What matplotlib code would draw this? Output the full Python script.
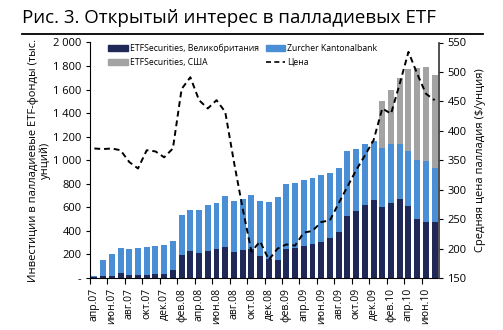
import matplotlib
matplotlib.use("Agg")
import matplotlib.pyplot as plt
from matplotlib.patches import Patch
from matplotlib.lines import Line2D
from matplotlib.ticker import FuncFormatter, FixedLocator
import numpy as np

plt.rcParams['font.family'] = ['Open Sans', 'DejaVu Sans']

# Monthly holdings, thousand oz (Apr 2007 - Jul 2010)
etfs_uk = [10, 20, 20, 40, 22, 25, 25, 30, 37, 68,
           196, 232, 216, 232, 247, 267, 224, 238, 245, 190,
           160, 156, 245, 258, 270, 292, 309, 340, 394, 530,
           570, 621, 664, 607, 635, 672, 615, 502, 479, 479]
zkb = [5, 133, 184, 213, 225, 228, 239, 240, 244, 247,
       340, 344, 362, 386, 391, 431, 431, 432, 461, 460,
       487, 533, 555, 553, 564, 558, 563, 553, 543, 545,
       527, 519, 498, 497, 503, 468, 460, 502, 511, 454]
etfs_us = [0] * 33 + [402, 462, 559, 704, 781, 800, 795]
# Average palladium price, $/oz
price = [370, 369, 370, 367, 347, 336, 367, 365, 355, 370,
         471, 491, 452, 438, 452, 432, 347, 268, 195, 212,
         181, 200, 207, 205, 227, 230, 245, 248, 277, 305,
         333, 358, 384, 438, 429, 480, 534, 497, 463, 452]
tick_labels = ['апр.07', 'июн.07', 'авг.07', 'окт.07', 'дек.07',
               'фев.08', 'апр.08', 'июн.08', 'авг.08', 'окт.08',
               'дек.08', 'фев.09', 'апр.09', 'июн.09', 'авг.09',
               'окт.09', 'дек.09', 'фев.10', 'апр.10', 'июн.10']

c_uk = '#1f2857'
c_zkb = '#4a8fd6'
c_us = '#a3a3a3'

fig = plt.figure(figsize=(5.03, 3.30), dpi=100)
ax = fig.add_axes([90 / 503, 1 - 278 / 330, 349 / 503, 235.5 / 330])

x = np.arange(len(etfs_uk))
uk = np.array(etfs_uk)
zk = np.array(zkb)
us = np.array(etfs_us)
w = 0.68
ax.bar(x, uk, w, color=c_uk, linewidth=0)
ax.bar(x, zk, w, bottom=uk, color=c_zkb, linewidth=0)
ax.bar(x, us, w, bottom=uk + zk, color=c_us, linewidth=0)

ax.set_xlim(-0.5, len(x) - 0.5)
ax.set_ylim(0, 2000)
ax.set_yticks(np.arange(0, 2001, 200))
ax.yaxis.set_major_formatter(FuncFormatter(
    lambda v, p: '-' if v == 0 else f'{int(v):,}'.replace(',', ' ')))

label_pos = x[::2]
ax.set_xticks(label_pos)
ax.set_xticklabels(tick_labels, rotation=90, fontsize=7.5)
ax.tick_params(axis='x', which='major', length=0, pad=7)
ax.xaxis.set_minor_locator(FixedLocator(label_pos - 0.5))
ax.tick_params(axis='x', which='minor', length=4, width=0.8, direction='out')
ax.tick_params(axis='y', labelsize=8, length=3, width=0.8, direction='out', pad=3)

for s in ['top', 'right']:
    ax.spines[s].set_visible(False)
ax.spines['left'].set_linewidth(0.8)
ax.spines['bottom'].set_linewidth(0.8)

ax.set_ylabel('Инвестиции в палладиевые ETF-фонды (тыс.\nунций)',
              fontsize=8, labelpad=2, linespacing=1.0)

ax2 = ax.twinx()
ax2.plot(x, price, color='black', linestyle=(0, (3, 2)), linewidth=1.4)
ax2.set_ylim(150, 550)
ax2.set_yticks(np.arange(150, 551, 50))
ax2.tick_params(axis='y', labelsize=8, length=3, width=0.8, direction='out', pad=3)
for s in ['top', 'left', 'bottom']:
    ax2.spines[s].set_visible(False)
ax2.spines['right'].set_linewidth(1.2)
ax2.spines['right'].set_color('#333333')
ax2.set_ylabel('Средняя цена палладия ($/унция)', fontsize=8, labelpad=6)

handles = [Patch(color=c_uk), Patch(color=c_us), Patch(color=c_zkb),
           Line2D([0], [0], color='black', linestyle=(0, (3, 2)), linewidth=1.2)]
labels = ['ETFSecurities, Великобритания', 'ETFSecurities, США',
          'Zurcher Kantonalbank', 'Цена']
ax2.legend(handles, labels, ncol=2, loc='upper left', bbox_to_anchor=(0.035, 1.02),
           frameon=False, fontsize=6.2, handlelength=2.3, handleheight=0.6,
           handletextpad=0.2, columnspacing=0.8, labelspacing=0.55, borderpad=0.2)

fig.text(22 / 503, 1 - 18 / 330, 'Рис. 3. Открытый интерес в палладиевых ETF',
         fontsize=13.5, va='center', ha='left')
fig.add_artist(Line2D([22 / 503, 483 / 503], [1 - 33.5 / 330] * 2,
                      transform=fig.transFigure, color='black', linewidth=1.3))

fig.savefig('out.png', dpi=100)
